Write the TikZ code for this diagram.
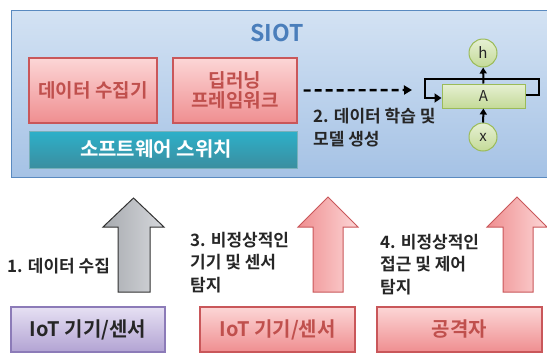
\documentclass[tikz,border=0pt]{standalone}
\usepackage{fontspec}
\IfFontExistsTF{Noto Sans CJK KR Bold}{%
  \setmainfont{Noto Sans CJK KR}[BoldFont={Noto Sans CJK KR Bold}]}{%
  \setmainfont{Noto Sans CJK KR}[BoldFont={Noto Sans CJK KR},BoldFeatures={FakeBold=3}]}
\usetikzlibrary{arrows.meta,calc}
\definecolor{siotborder}{HTML}{5A8AC0}
\definecolor{siottop}{HTML}{D3E2F3}
\definecolor{siotbot}{HTML}{A5C2E5}
\definecolor{siottext}{HTML}{4A7EBB}
\definecolor{pinktop}{HTML}{FCD6D6}
\definecolor{pinkbot}{HTML}{EF8E90}
\definecolor{pinkline}{HTML}{C9575A}
\definecolor{redtext}{HTML}{C0504D}
\definecolor{tealtop}{HTML}{2DB0C9}
\definecolor{tealbot}{HTML}{3B8EA0}
\definecolor{greentop}{HTML}{E6F0D3}
\definecolor{greenbot}{HTML}{C4DA98}
\definecolor{greenline}{HTML}{9BBB59}
\definecolor{purptop}{HTML}{E6E0F3}
\definecolor{purpbot}{HTML}{B2A3D3}
\definecolor{purpline}{HTML}{8C7BB8}
\definecolor{graytop}{HTML}{D6D8DC}
\definecolor{graybot}{HTML}{A7AAAF}
\definecolor{darktext}{HTML}{262626}
\tikzset{
  pinkbox/.style={draw=pinkline, line width=1.2pt, top color=pinktop, bottom color=pinkbot,
    text=redtext, font=\bfseries\fontsize{19}{21}\selectfont, align=center, inner sep=0pt},
  greennode/.style={draw=greenline, line width=1pt, top color=greentop, bottom color=greenbot,
    text=darktext, font=\fontsize{15}{16}\selectfont},
  lbl/.style={text=darktext, font=\bfseries\fontsize{17}{22.5}\selectfont, align=left, anchor=north west, inner sep=0pt},
  blockarrow/.style={line width=1pt, line join=miter},
}
\begin{document}
\begin{tikzpicture}[x=1pt,y=-1pt]
\useasboundingbox (0,0) rectangle (547,354);
% SIOT box
\node[draw=siotborder, line width=1.2pt, top color=siottop, bottom color=siotbot,
  minimum width=540pt, minimum height=167pt, anchor=north west, inner sep=0pt] (siot) at (11,10) {};
\node[text=siottext, font=\bfseries\fontsize{23}{25}\selectfont] (siotlbl) at (277,33) {SIOT};
% inner boxes
\node[pinkbox, minimum width=128pt, minimum height=65pt] (dc) at (93,90.5) {데이터 수집기};
\node[pinkbox, minimum width=124pt, minimum height=65pt] (dl) at (235,90.5) {딥러닝\\[-1pt]프레임워크};
\node[draw=tealtop!70!black!60, line width=0.8pt, top color=tealtop, bottom color=tealbot,
  minimum width=268pt, minimum height=37pt, text=white, font=\bfseries\fontsize{20}{22}\selectfont] (sw) at (163,149.5) {소프트웨어 스위치\hspace*{14pt}};
% RNN
\node[greennode, rectangle, minimum width=83pt, minimum height=24pt, inner sep=0pt] (A) at (483.5,96) {A};
\node[greennode, circle, minimum size=28pt, inner sep=0pt] (h) at (483,53) {h};
\node[greennode, circle, minimum size=28pt, inner sep=0pt] (xin) at (483,137) {x};
\draw[line width=2pt, -{Triangle[length=6pt,width=7pt]}] (xin) -- (A);
\draw[line width=2pt, -{Triangle[length=6pt,width=7pt]}] (A) -- (h);
\coordinate (lpR) at (539,95);
\coordinate (lpTL) at (425,79);
\coordinate (lpL) at (425,98);
\draw[line width=2.6pt, line join=miter, -{Triangle[length=7pt,width=9pt]}]
  (A.east |- lpR) -- (lpR) |- (lpTL) -- (lpL) -- (A.west |- lpL);
% dashed arrow
\coordinate (dashend) at (412,90);
\draw[line width=2.4pt, dash pattern=on 7pt off 4pt, -{Triangle[length=8pt,width=9pt]}]
  ($(dl.east)+(6,0)$) -- (dashend);
\node[lbl] (l2) at (313,108) {2. 데이터 학습 및\\모델 생성};
% bottom boxes
\node[draw=purpline, line width=1.2pt, top color=purptop, bottom color=purpbot,
  minimum width=154pt, minimum height=45pt, text=darktext, font=\bfseries\fontsize{20}{22}\selectfont] (iot1) at (88,329.5) {IoT 기기/센서};
\node[pinkbox, minimum width=155pt, minimum height=45pt, font=\bfseries\fontsize{20}{22}\selectfont] (iot2) at (277.5,329.5) {IoT 기기/센서};
\node[pinkbox, minimum width=165pt, minimum height=45pt, font=\bfseries\fontsize{20}{22}\selectfont] (att) at (459.5,329.5) {공격자};
% block arrows
\draw[blockarrow, draw=black!80, left color=graybot, right color=graytop]
  (118,292) -- (118,227) -- (103,227) -- (133.5,198) -- (164,227) -- (150,227) -- (150,292) -- cycle;
\draw[blockarrow, draw=pinkline, left color=pinkbot, right color=pinktop]
  (313,292) -- (313,227) -- (298,227) -- (328,197) -- (358,227) -- (343,227) -- (343,292) -- cycle;
\draw[blockarrow, draw=pinkline, left color=pinkbot, right color=pinktop]
  (503,292) -- (503,227) -- (487,227) -- (517,197) -- (547,227) -- (533,227) -- (533,292) -- cycle;
% labels
\node[lbl] (l1) at (7,258) {1. 데이터 수집};
\node[lbl] (l3) at (190,232) {3. 비정상적인\\기기 및 센서\\탐지};
\node[lbl] (l4) at (380,234) {4. 비정상적인\\접근 및 제어\\탐지};
\end{tikzpicture}
\end{document}
